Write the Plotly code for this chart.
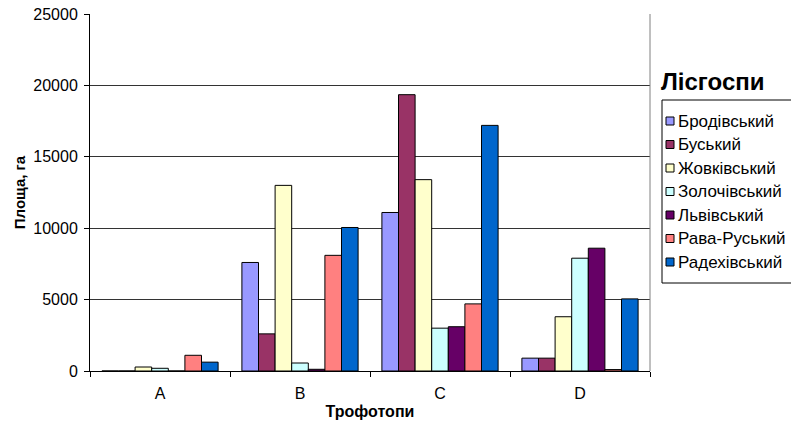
import plotly.graph_objects as go

categories = ["A", "B", "C", "D"]
series_names = ["Бродівський", "Буський", "Жовківський", "Золочівський",
                "Львівський", "Рава-Руський", "Радехівський"]
brodivskyi = [0, 7600, 11100, 900]
buskyi = [0, 2600, 19350, 900]
zhovkivskyi = [280, 13000, 13400, 3800]
zolochivskyi = [190, 560, 3000, 7900]
lvivskyi = [0, 120, 3100, 8600]
rava_ruskyi = [1100, 8100, 4700, 100]
radekhivskyi = [620, 10050, 17200, 5050]
series_values = [brodivskyi, buskyi, zhovkivskyi, zolochivskyi,
                 lvivskyi, rava_ruskyi, radekhivskyi]
colors = ["#9999FF", "#993366", "#FFFFCC", "#CCFFFF", "#660066", "#FF8080", "#0066CC"]
y_ticks = [0, 5000, 10000, 15000, 20000, 25000]
y_tick_labels = [str(v) for v in y_ticks]
legend_title = "Лісгоспи"

FONT = "Arial, Liberation Sans, sans-serif"

fig = go.Figure()
for name, vals, col in zip(series_names, series_values, colors):
    fig.add_trace(go.Bar(name=name, x=categories, y=vals, showlegend=False,
                         marker=dict(color=col, line=dict(color="#000000", width=1))))

# legend drawn beside the plot (box, swatches, labels), positioned in pixels from the plot's top-right corner
shapes = [dict(type="line", xref="paper", yref="paper", x0=1, x1=1, y0=0, y1=1,
               line=dict(color="#808080", width=1)),
          dict(type="rect", xref="paper", yref="paper", xsizemode="pixel", ysizemode="pixel",
               xanchor=1, yanchor=1, x0=12, x1=142, y0=-86, y1=-269,
               line=dict(color="#000000", width=1), fillcolor="white")]
annotations = [dict(text="<b>" + legend_title + "</b>", xref="paper", yref="paper",
                    x=1, y=1, xshift=9, yshift=-67, xanchor="left", yanchor="middle",
                    showarrow=False, font=dict(size=24, family=FONT, color="#000000"))]
for i, (name, col) in enumerate(zip(series_names, colors)):
    off = -(107 + 23.5 * i)
    shapes.append(dict(type="rect", xref="paper", yref="paper", xsizemode="pixel",
                       ysizemode="pixel", xanchor=1, yanchor=1, x0=16, x1=24,
                       y0=off - 4, y1=off + 4, fillcolor=col,
                       line=dict(color="#000000", width=1)))
    annotations.append(dict(text=name, xref="paper", yref="paper", x=1, y=1,
                            xshift=26, yshift=off, xanchor="left", yanchor="middle",
                            showarrow=False, font=dict(size=17, family=FONT, color="#000000")))

fig.update_layout(
    width=791, height=433,
    margin=dict(l=90, r=141, t=14, b=62, autoexpand=False),
    paper_bgcolor="white", plot_bgcolor="white",
    barmode="group", bargap=0.17, bargroupgap=0,
    font=dict(family=FONT, size=16, color="#000000"),
    showlegend=False,
    xaxis=dict(showline=True, linecolor="#000000", linewidth=1,
               ticks="outside", tickson="boundaries", ticklen=5, tickcolor="#000000",
               tickfont=dict(size=16), ticklabelstandoff=8,
               title=dict(text="<b>Трофотопи</b>", font=dict(size=16), standoff=4)),
    yaxis=dict(range=[0, 25000], tickvals=y_ticks, ticktext=y_tick_labels,
               showline=True, linecolor="#000000",
               linewidth=1, ticks="outside", ticklen=5, tickcolor="#000000",
               tickfont=dict(size=16), ticklabelstandoff=3,
               showgrid=True, gridcolor="#333333", gridwidth=1, zeroline=False,
               title=dict(text="<b>Площа, га</b>", font=dict(size=15), standoff=4)),
    annotations=annotations,
    shapes=shapes,
)

fig.write_html("out.html")
